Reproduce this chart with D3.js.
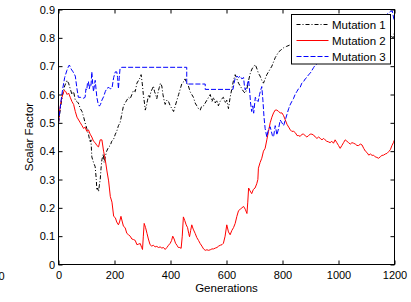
<!DOCTYPE html>
<html>
<head>
<meta charset="utf-8">
<script src="https://cdn.jsdelivr.net/npm/d3@7"></script>
<style>
	body { margin: 0; background: #fff; }
	svg text { font-family: Arial, "Liberation Sans", sans-serif; }
</style>
</head>
<body>
<div id="chart-container"></div>
<script>
'use strict';

// legend names, in draw order
const seriesNames = ['Mutation 1', 'Mutation 2', 'Mutation 3'];

const xTicks = [0, 200, 400, 600, 800, 1000, 1200];
const yTicks = [0, 0.1, 0.2, 0.3, 0.4, 0.5, 0.6, 0.7, 0.8, 0.9];

// [generation, scalar factor]
const mutation1 = [
	[0, 0.50], [8, 0.56], [15, 0.60], [22, 0.63], [30, 0.65], [36, 0.64], [42, 0.62], [48, 0.60],
	[54, 0.61], [60, 0.58], [66, 0.575], [71, 0.57], [78, 0.55], [84, 0.54], [90, 0.52], [95, 0.50],
	[101, 0.48], [107, 0.46], [113, 0.43], [116, 0.44], [119, 0.38], [125, 0.36], [131, 0.345],
	[135, 0.30], [137, 0.262], [140, 0.27], [143, 0.257], [146, 0.28], [149, 0.30], [152, 0.34],
	[155, 0.37], [160, 0.39], [163, 0.36], [167, 0.38], [172, 0.40], [179, 0.415], [185, 0.42],
	[190, 0.435], [196, 0.44], [203, 0.46], [208, 0.47], [214, 0.49], [220, 0.50], [226, 0.53],
	[232, 0.56], [238, 0.57], [244, 0.58], [250, 0.59], [256, 0.585], [262, 0.60], [268, 0.615],
	[274, 0.61], [280, 0.64], [286, 0.65], [292, 0.66], [295, 0.67], [299, 0.64], [303, 0.60],
	[307, 0.57], [310, 0.545], [314, 0.56], [318, 0.58], [322, 0.60], [326, 0.59], [330, 0.61],
	[335, 0.62], [339, 0.63], [343, 0.61], [347, 0.60], [351, 0.585], [356, 0.61], [360, 0.625],
	[364, 0.64], [369, 0.63], [373, 0.60], [377, 0.58], [381, 0.565], [387, 0.58], [393, 0.575],
	[399, 0.56], [405, 0.55], [411, 0.54], [417, 0.56], [423, 0.58], [429, 0.60], [435, 0.62],
	[441, 0.64], [447, 0.645], [452, 0.655], [458, 0.64], [464, 0.63], [470, 0.61], [476, 0.60],
	[482, 0.59], [488, 0.57], [494, 0.56], [500, 0.55], [506, 0.545], [512, 0.56], [518, 0.56],
	[524, 0.57], [530, 0.58], [536, 0.59], [542, 0.60], [548, 0.575], [554, 0.59], [560, 0.57],
	[566, 0.58], [571, 0.56], [577, 0.575], [583, 0.585], [589, 0.59], [595, 0.57], [601, 0.58],
	[607, 0.55], [613, 0.59], [619, 0.62], [625, 0.65], [631, 0.67], [637, 0.655], [643, 0.64],
	[649, 0.63], [655, 0.62], [661, 0.61], [667, 0.605], [673, 0.62], [679, 0.65], [685, 0.675],
	[691, 0.69], [697, 0.70], [703, 0.705], [709, 0.69], [714, 0.675], [720, 0.665], [726, 0.65],
	[732, 0.64], [738, 0.655], [744, 0.67], [750, 0.68], [756, 0.69], [762, 0.70], [768, 0.715],
	[774, 0.73], [780, 0.74], [786, 0.75], [792, 0.755], [798, 0.76], [804, 0.765], [815, 0.77],
	[827, 0.775], [860, 0.78], [900, 0.79], [950, 0.79], [1000, 0.80], [1050, 0.80], [1100, 0.81],
	[1150, 0.81], [1180, 0.815], [1195, 0.80], [1200, 0.82]
];

const mutation2 = [
	[0, 0.50], [5, 0.55], [10, 0.58], [15, 0.60], [21, 0.615], [26, 0.61], [31, 0.60], [36, 0.605],
	[42, 0.59], [48, 0.575], [54, 0.565], [60, 0.54], [66, 0.52], [72, 0.51], [78, 0.50], [84, 0.49],
	[90, 0.48], [95, 0.485], [101, 0.47], [107, 0.475], [113, 0.46], [119, 0.45], [125, 0.435],
	[131, 0.43], [137, 0.42], [143, 0.415], [149, 0.44], [155, 0.44], [161, 0.40], [167, 0.37],
	[173, 0.33], [179, 0.295], [185, 0.24], [191, 0.22], [197, 0.17], [203, 0.165], [208, 0.15],
	[214, 0.14], [218, 0.15], [223, 0.17], [228, 0.15], [232, 0.135], [238, 0.13], [244, 0.11],
	[250, 0.105], [256, 0.10], [262, 0.09], [268, 0.088], [274, 0.085], [280, 0.07], [286, 0.072],
	[292, 0.074], [297, 0.06], [300, 0.053], [303, 0.10], [306, 0.145], [311, 0.13], [316, 0.11],
	[321, 0.09], [327, 0.07], [333, 0.065], [339, 0.068], [345, 0.062], [351, 0.064], [357, 0.06],
	[363, 0.062], [369, 0.058], [375, 0.06], [381, 0.053], [387, 0.06], [393, 0.068], [399, 0.075],
	[404, 0.085], [408, 0.10], [413, 0.09], [418, 0.075], [423, 0.068], [428, 0.06], [433, 0.06],
	[438, 0.057], [442, 0.10], [446, 0.168], [451, 0.155], [456, 0.14], [461, 0.13], [465, 0.11],
	[468, 0.098], [472, 0.12], [476, 0.14], [481, 0.125], [488, 0.11], [494, 0.095], [500, 0.085],
	[506, 0.074], [512, 0.065], [518, 0.055], [524, 0.05], [530, 0.052], [536, 0.05], [542, 0.052],
	[548, 0.055], [554, 0.055], [560, 0.058], [566, 0.06], [572, 0.065], [578, 0.068], [584, 0.07],
	[589, 0.075], [595, 0.10], [601, 0.14], [607, 0.115], [613, 0.105], [619, 0.12], [625, 0.13],
	[631, 0.145], [637, 0.17], [643, 0.19], [649, 0.195], [655, 0.20], [661, 0.205], [667, 0.195],
	[673, 0.18], [676, 0.22], [679, 0.27], [684, 0.26], [690, 0.25], [696, 0.265], [702, 0.27],
	[708, 0.285], [712, 0.30], [714, 0.34], [720, 0.36], [726, 0.375], [732, 0.40], [738, 0.41],
	[744, 0.44], [750, 0.47], [756, 0.50], [762, 0.52], [768, 0.535], [774, 0.545], [780, 0.545],
	[786, 0.54], [792, 0.535], [798, 0.535], [804, 0.525], [810, 0.51], [816, 0.495], [822, 0.485],
	[828, 0.475], [833, 0.47], [840, 0.47], [846, 0.465], [852, 0.455], [858, 0.455], [863, 0.452],
	[870, 0.46], [875, 0.46], [881, 0.455], [887, 0.45], [893, 0.455], [899, 0.46], [905, 0.46],
	[911, 0.457], [917, 0.45], [923, 0.445], [929, 0.45], [935, 0.445], [941, 0.44], [947, 0.445],
	[952, 0.44], [958, 0.435], [964, 0.433], [970, 0.43], [976, 0.435], [982, 0.428], [988, 0.44],
	[994, 0.43], [1000, 0.42], [1006, 0.41], [1012, 0.42], [1018, 0.43], [1024, 0.44], [1030, 0.435],
	[1036, 0.43], [1042, 0.425], [1048, 0.43], [1054, 0.428], [1060, 0.425], [1066, 0.42],
	[1072, 0.42], [1078, 0.425], [1084, 0.422], [1090, 0.41], [1096, 0.40], [1102, 0.395],
	[1108, 0.386], [1114, 0.39], [1120, 0.385], [1125, 0.386], [1131, 0.38], [1137, 0.378],
	[1143, 0.375], [1149, 0.38], [1155, 0.385], [1161, 0.386], [1167, 0.39], [1173, 0.392],
	[1179, 0.398], [1185, 0.405], [1191, 0.42], [1196, 0.43], [1200, 0.44]
];

const mutation3 = [
	[0, 0.50], [8, 0.57], [15, 0.62], [22, 0.66], [30, 0.685], [36, 0.70], [39, 0.704], [45, 0.69],
	[52, 0.68], [60, 0.665], [66, 0.62], [71, 0.59], [78, 0.59], [84, 0.587], [90, 0.587], [95, 0.59],
	[98, 0.62], [101, 0.616], [104, 0.645], [107, 0.645], [110, 0.62], [113, 0.635], [116, 0.63],
	[119, 0.68], [122, 0.64], [125, 0.61], [128, 0.63], [131, 0.65], [134, 0.62], [137, 0.59],
	[141, 0.57], [146, 0.559], [150, 0.565], [155, 0.58], [161, 0.592], [167, 0.61], [173, 0.622],
	[180, 0.625], [185, 0.62], [191, 0.622], [197, 0.66], [203, 0.68], [208, 0.68], [211, 0.66],
	[214, 0.62], [217, 0.66], [220, 0.693], [226, 0.696], [458, 0.696], [458, 0.637], [524, 0.637],
	[524, 0.618], [623, 0.618], [627, 0.64], [631, 0.657], [637, 0.665], [643, 0.66], [649, 0.665],
	[655, 0.655], [661, 0.66], [664, 0.63], [667, 0.616], [673, 0.63], [679, 0.651], [682, 0.62],
	[686, 0.57], [690, 0.54], [694, 0.56], [697, 0.534], [703, 0.59], [708, 0.58], [713, 0.575],
	[718, 0.60], [722, 0.615], [726, 0.628], [730, 0.58], [734, 0.52], [738, 0.48], [741, 0.465],
	[744, 0.45], [748, 0.47], [752, 0.48], [756, 0.486], [760, 0.47], [764, 0.455], [768, 0.45],
	[771, 0.47], [774, 0.49], [777, 0.475], [780, 0.457], [786, 0.48], [792, 0.51], [798, 0.50],
	[804, 0.49], [810, 0.51], [816, 0.53], [822, 0.55], [827, 0.563], [833, 0.575], [839, 0.585],
	[845, 0.60], [851, 0.61], [857, 0.62], [863, 0.625], [869, 0.64], [875, 0.645], [881, 0.655],
	[887, 0.66], [893, 0.67], [899, 0.675], [905, 0.685], [911, 0.695], [917, 0.704], [940, 0.72],
	[980, 0.75], [1020, 0.78], [1060, 0.81], [1100, 0.84], [1140, 0.87], [1170, 0.88], [1185, 0.893],
	[1192, 0.895], [1197, 0.87], [1200, 0.86]
];

const width = 411;
const height = 302;
const plot = { left: 58.5, right: 394.5, top: 9.5, bottom: 264.5 };

const svg = d3
	.select('#chart-container')
	.append('svg')
	.attr('width', width)
	.attr('height', height);

const x = d3.scaleLinear().domain([0, 1200]).range([plot.left, plot.right]);
const y = d3.scaleLinear().domain([0, 0.9]).range([plot.bottom, plot.top]);

// matlab style: ticks point inwards on all four sides
function styleAxis(g) {
	g.select('.domain').remove();
	g.selectAll('line').attr('stroke', '#000');
	g.selectAll('text').attr('fill', '#000').style('font-size', '11px');
}

svg.append('g')
	.attr('transform', `translate(0,${plot.bottom})`)
	.call(d3.axisBottom(x).tickValues(xTicks).tickFormat(d3.format('d')).tickSizeInner(-4).tickSizeOuter(0).tickPadding(7))
	.call(styleAxis);

svg.append('g')
	.attr('transform', `translate(0,${plot.top})`)
	.call(d3.axisTop(x).tickValues(xTicks).tickFormat('').tickSizeInner(-4).tickSizeOuter(0))
	.call(styleAxis);

svg.append('g')
	.attr('transform', `translate(${plot.left},0)`)
	.call(d3.axisLeft(y).tickValues(yTicks).tickFormat((d) => (d === 0 ? '0' : d3.format('.1f')(d))).tickSizeInner(-4).tickSizeOuter(0).tickPadding(3.5))
	.call(styleAxis);

svg.append('g')
	.attr('transform', `translate(${plot.right},0)`)
	.call(d3.axisRight(y).tickValues(yTicks).tickFormat('').tickSizeInner(-4).tickSizeOuter(0))
	.call(styleAxis);

svg.append('clipPath')
	.attr('id', 'plot-clip')
	.append('rect')
	.attr('x', plot.left)
	.attr('y', plot.top)
	.attr('width', plot.right - plot.left)
	.attr('height', plot.bottom - plot.top);

const line = d3.line()
	.x((d) => x(d[0]))
	.y((d) => y(d[1]));

const styles = [
	{ color: '#000000', dash: '4,2,1,2' },
	{ color: '#ff0000', dash: null },
	{ color: '#0000ff', dash: '5,2' },
];

const seriesData = [mutation1, mutation2, mutation3];

svg.append('g')
	.attr('clip-path', 'url(#plot-clip)')
	.selectAll('path')
	.data(seriesData)
	.enter()
	.append('path')
	.attr('d', line)
	.attr('fill', 'none')
	.attr('stroke', (d, i) => styles[i].color)
	.attr('stroke-width', 1)
	.attr('stroke-dasharray', (d, i) => styles[i].dash);

// axes box
svg.append('rect')
	.attr('x', plot.left)
	.attr('y', plot.top)
	.attr('width', plot.right - plot.left)
	.attr('height', plot.bottom - plot.top)
	.attr('fill', 'none')
	.attr('stroke', '#000')
	.attr('stroke-width', 1);

// axis labels
svg.append('text')
	.attr('x', (plot.left + plot.right) / 2)
	.attr('y', 291.5)
	.attr('text-anchor', 'middle')
	.style('font-size', '11.5px')
	.text('Generations');

svg.append('text')
	.attr('transform', `translate(33,${(plot.top + plot.bottom) / 2}) rotate(-90)`)
	.attr('text-anchor', 'middle')
	.style('font-size', '11.5px')
	.text('Scalar Factor');

// stray tick label cut at the left edge of the figure
svg.append('text')
	.attr('x', 4.5)
	.attr('y', 279.5)
	.attr('text-anchor', 'end')
	.style('font-size', '11px')
	.text('0');

// legend
const legend = svg.append('g').attr('transform', 'translate(291.5,14.5)');

legend.append('rect')
	.attr('width', 99)
	.attr('height', 49.5)
	.attr('fill', '#fff')
	.attr('stroke', '#000')
	.attr('stroke-width', 1);

const entries = legend.selectAll('g')
	.data(seriesNames)
	.enter()
	.append('g')
	.attr('transform', (d, i) => `translate(0,${10 + i * 16})`);

entries.append('line')
	.attr('x1', 5)
	.attr('x2', 37)
	.attr('stroke', (d, i) => styles[i].color)
	.attr('stroke-width', 1)
	.attr('stroke-dasharray', (d, i) => styles[i].dash);

entries.append('text')
	.attr('x', 40.5)
	.attr('y', 4)
	.style('font-size', '11.5px')
	.text((d) => d);
</script>
</body>
</html>
